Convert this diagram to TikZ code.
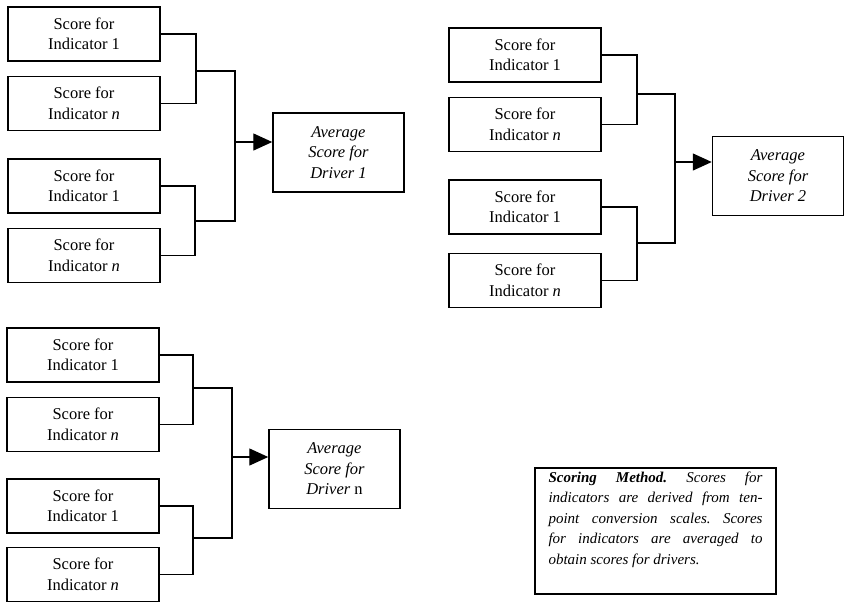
\documentclass[tikz,border=0pt]{standalone}
\usepackage{fontspec}
\setmainfont{Liberation Serif}
\usetikzlibrary{arrows.meta}
\usetikzlibrary{positioning}

\tikzset{
    scorebox/.style={draw, line width=1.5pt, minimum width=152pt, minimum height=54pt, align=center, font=\fontsize{16.5}{20.5}\selectfont},
    driverbox/.style={draw, line width=1.5pt, minimum width=131pt, minimum height=79pt, align=center, font=\fontsize{16.5}{20.5}\selectfont\itshape},
    notebox/.style={draw, line width=1.5pt, text width=214pt, inner xsep=13.5pt, inner ysep=4pt, align=justify, font=\fontsize{15}{20.5}\selectfont\itshape\frenchspacing},
    link/.style={line width=1.4pt},
    feed/.style={line width=1.4pt, -{Triangle[length=19pt,width=17pt]}}
}

\begin{document}
\begin{tikzpicture}[x=1pt, y=-1pt]
    \useasboundingbox (0,0) rectangle (845,603);

    % driver 1
    \node [scorebox] (a1) at (84,34) {Score for\\Indicator 1};
    \node [scorebox, below=14pt of a1] (a2) {Score for\\Indicator \textit{n}};
    \node [scorebox, below=27pt of a2] (a3) {Score for\\Indicator 1};
    \node [scorebox, below=14pt of a3] (a4) {Score for\\Indicator \textit{n}};
    \node [driverbox] (d1) at (338.5,152.5) {Average\\Score for\\Driver 1};

    \coordinate (ja) at (196,71);
    \coordinate (jb) at (195,221);
    \coordinate (ta) at (235,71);
    \coordinate (tb) at (235,221);
    \coordinate (fa) at (235,142);
    \draw [link] (a1.east) -| (ja) |- (a2.east);
    \draw [link] (a3.east) -| (jb) |- (a4.east);
    \draw [link] (ja) -- (ta) -- (tb) -- (jb);
    \draw [feed] (fa) -- (fa -| d1.west);

    % driver 2
    \node [scorebox] (b1) at (525,55) {Score for\\Indicator 1};
    \node [scorebox, below=14pt of b1] (b2) {Score for\\Indicator \textit{n}};
    \node [scorebox, below=27pt of b2] (b3) {Score for\\Indicator 1};
    \node [scorebox, below=18pt of b3] (b4) {Score for\\Indicator \textit{n}};
    \node [driverbox] (d2) at (778,176) {Average\\Score for\\Driver 2};

    \coordinate (jc) at (637,94);
    \coordinate (jd) at (637,243);
    \coordinate (tc) at (675,94);
    \coordinate (td) at (675,243);
    \coordinate (fb) at (675,162);
    \draw [link] (b1.east) -| (jc) |- (b2.east);
    \draw [link] (b3.east) -| (jd) |- (b4.east);
    \draw [link] (jc) -- (tc) -- (td) -- (jd);
    \draw [feed] (fb) -- (fb -| d2.west);

    % driver n
    \node [scorebox] (c1) at (83,355) {Score for\\Indicator 1};
    \node [scorebox, below=14pt of c1] (c2) {Score for\\Indicator \textit{n}};
    \node [scorebox, below=26pt of c2] (c3) {Score for\\Indicator 1};
    \node [scorebox, below=13pt of c3] (c4) {Score for\\Indicator \textit{n}};
    \node [driverbox] (dn) at (334.5,469) {Average\\Score for\\Driver \textup{n}};

    \coordinate (je) at (193,388);
    \coordinate (jf) at (193,538);
    \coordinate (te) at (232,388);
    \coordinate (tf) at (232,538);
    \coordinate (fc) at (232,457);
    \draw [link] (c1.east) -| (je) |- (c2.east);
    \draw [link] (c3.east) -| (jf) |- (c4.east);
    \draw [link] (je) -- (te) -- (tf) -- (jf);
    \draw [feed] (fc) -- (fc -| dn.west);

    % scoring note
    \node [notebox, anchor=north] (note) at (655.5,467) {\textbf{Scoring Method.} Scores for\linebreak indicators are derived from ten-\linebreak point conversion scales. Scores\linebreak for indicators are averaged to\linebreak obtain scores for drivers.\par\vspace{5pt}\null};

\end{tikzpicture}
\end{document}
